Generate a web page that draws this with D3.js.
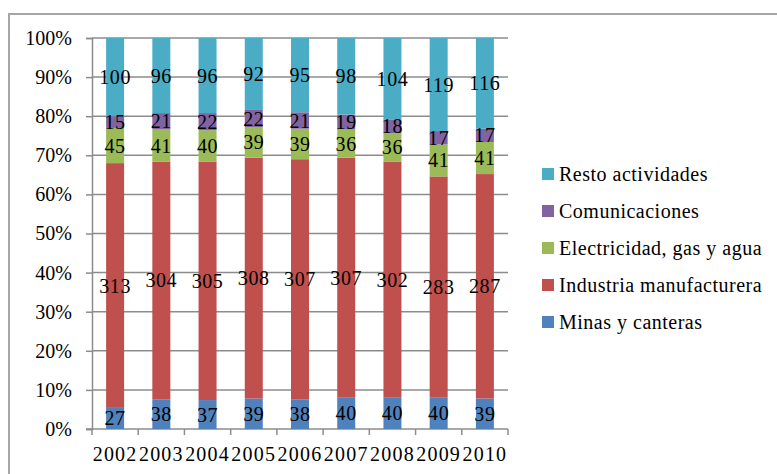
<!DOCTYPE html>
<html>
<head>
<meta charset="utf-8">
<script src="https://cdn.jsdelivr.net/npm/d3@7/dist/d3.min.js"></script>
<style>
  html, body { margin: 0; padding: 0; background: #fff; }
  svg { display: block; }
  svg text { font-family: "Times New Roman", "Liberation Serif", Tinos, Times, serif !important; fill: #000; }
</style>
</head>
<body>
<svg id="chart" width="777" height="474"></svg>
<script>
// Sector shares per year (100% stacked)
const years = ["2002", "2003", "2004", "2005", "2006", "2007", "2008", "2009", "2010"];
const minas = [27, 38, 37, 39, 38, 40, 40, 40, 39];
const industria = [313, 304, 305, 308, 307, 307, 302, 283, 287];
const electricidad = [45, 41, 40, 39, 39, 36, 36, 41, 41];
const comunicaciones = [15, 21, 22, 22, 21, 19, 18, 17, 17];
const resto = [100, 96, 96, 92, 95, 98, 104, 119, 116];
const seriesNames = ["Minas y canteras", "Industria manufacturera", "Electricidad, gas y agua", "Comunicaciones", "Resto actividades"];
const seriesColors = ["#4F81BD", "#C0504D", "#9BBB59", "#8064A2", "#4BACC6"];
const yTicks = [0, 0.1, 0.2, 0.3, 0.4, 0.5, 0.6, 0.7, 0.8, 0.9, 1];

const seriesValues = [minas, industria, electricidad, comunicaciones, resto];
const rows = years.map((y, i) => {
  const r = { year: y };
  seriesNames.forEach((n, s) => { r[n] = seriesValues[s][i]; });
  return r;
});

const svg = d3.select("#chart");

// Chart frame
svg.append("rect")
  .attr("x", 9).attr("y", 14)
  .attr("width", 790).attr("height", 480)
  .attr("fill", "#fff")
  .attr("stroke", "#a6a6a6").attr("stroke-width", 2);

const plot = { left: 92, right: 508, top: 38, bottom: 429 };

const x = d3.scaleBand().domain(years).range([plot.left, plot.right]).padding(0);
const y = d3.scaleLinear().domain([0, 1]).range([plot.bottom, plot.top]);
const barW = 18;

// Horizontal gridlines
svg.append("g").selectAll("line")
  .data(yTicks.filter(d => d > 0))
  .join("line")
  .attr("x1", plot.left).attr("x2", plot.right)
  .attr("y1", d => y(d)).attr("y2", d => y(d))
  .attr("stroke", "#8c8c8c").attr("stroke-width", 1.5);

// Y axis
const yAxis = d3.axisLeft(y).tickValues(yTicks).tickFormat(d3.format(".0%")).tickSize(6).tickPadding(14);
const gy = svg.append("g").attr("transform", `translate(${plot.left},0)`).call(yAxis);
gy.attr("font-family", null);
gy.select(".domain").attr("stroke", "#8c8c8c").attr("stroke-width", 1.5);
gy.selectAll(".tick line").attr("stroke", "#8c8c8c").attr("stroke-width", 1.5);
gy.selectAll(".tick text").attr("font-size", 20).attr("fill", "#000");

// X axis with ticks at category boundaries
const xAxis = d3.axisBottom(x).tickSize(0).tickPadding(18);
const gx = svg.append("g").attr("transform", `translate(0,${plot.bottom})`).call(xAxis);
gx.attr("font-family", null);
gx.select(".domain").remove();
gx.selectAll(".tick text").attr("font-size", 20)
  .attr("fill", "#000").attr("letter-spacing", 1.2);
svg.append("line")
  .attr("x1", plot.left - 6).attr("x2", plot.right)
  .attr("y1", plot.bottom).attr("y2", plot.bottom)
  .attr("stroke", "#8c8c8c").attr("stroke-width", 1.5);
svg.append("g").selectAll("line")
  .data(years.concat(["end"]))
  .join("line")
  .attr("x1", (d, i) => plot.left + i * x.bandwidth())
  .attr("x2", (d, i) => plot.left + i * x.bandwidth())
  .attr("y1", plot.bottom).attr("y2", plot.bottom + 6)
  .attr("stroke", "#8c8c8c").attr("stroke-width", 1.5);

// Stacked bars
const stack = d3.stack().keys(seriesNames).offset(d3.stackOffsetExpand);
const layers = stack(rows);

const gLayers = svg.append("g").selectAll("g")
  .data(layers)
  .join("g")
  .attr("fill", (d, i) => seriesColors[i]);

gLayers.selectAll("rect")
  .data(d => d)
  .join("rect")
  .attr("x", d => x(d.data.year) + x.bandwidth() / 2 - barW / 2)
  .attr("width", barW)
  .attr("y", d => y(d[1]))
  .attr("height", d => y(d[0]) - y(d[1]));

// Value labels, centred in each segment
const gLabels = svg.append("g");
layers.forEach((layer, s) => {
  gLabels.selectAll(null)
    .data(layer)
    .join("text")
    .attr("x", d => x(d.data.year) + x.bandwidth() / 2)
    .attr("y", d => y((d[0] + d[1]) / 2))
    .attr("text-anchor", "middle")
    .attr("dominant-baseline", "central")
    .attr("font-size", 20)
    .attr("letter-spacing", 0.6)
    .text(d => d.data[layer.key]);
});

// Legend (top entry = top of stack)
const legendOrder = seriesNames.map((n, i) => ({ name: n, color: seriesColors[i] })).reverse();
const legend = svg.append("g").selectAll("g")
  .data(legendOrder)
  .join("g")
  .attr("transform", (d, i) => `translate(542,${174 + i * 37})`);
legend.append("rect")
  .attr("x", 0).attr("y", -6).attr("width", 12).attr("height", 12)
  .attr("fill", d => d.color);
legend.append("text")
  .attr("x", 17).attr("y", 0)
  .attr("dominant-baseline", "central")
  .attr("font-size", 20)
  .attr("letter-spacing", 0.5)
  .text(d => d.name);
</script>
</body>
</html>
